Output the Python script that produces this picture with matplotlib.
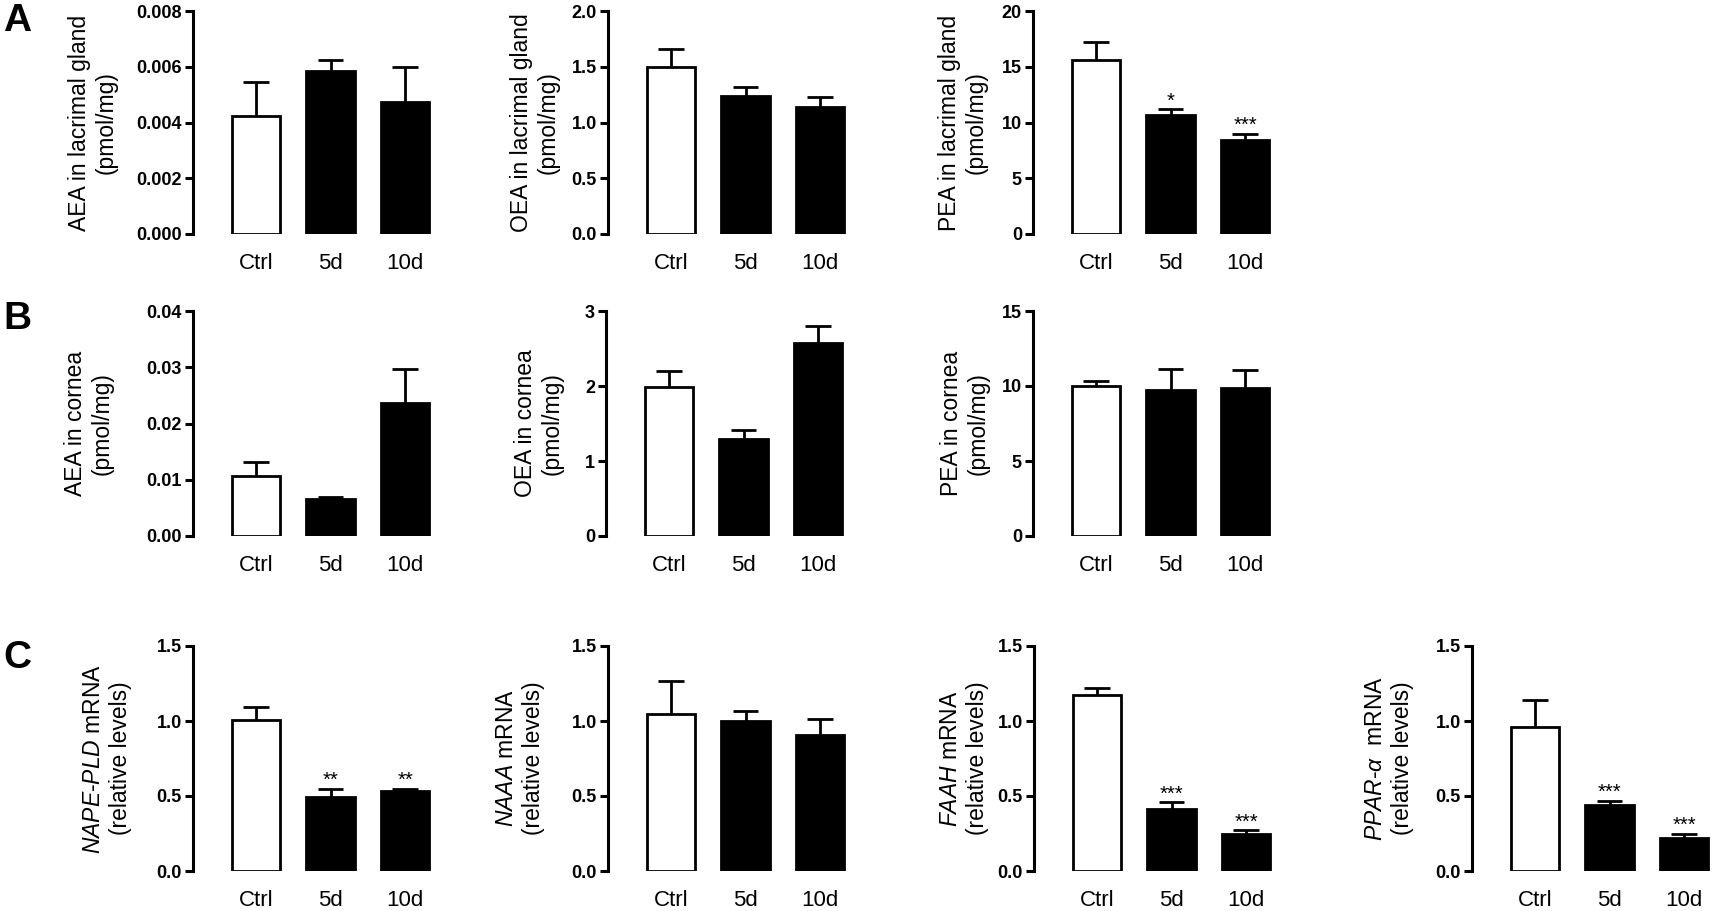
import matplotlib
matplotlib.use('Agg')
import matplotlib.pyplot as plt
from matplotlib.ticker import FormatStrFormatter, MultipleLocator

plt.rcParams['font.family'] = ['Liberation Sans', 'DejaVu Sans']
plt.rcParams['mathtext.fontset'] = 'custom'
plt.rcParams['mathtext.rm'] = 'Liberation Sans'
plt.rcParams['mathtext.it'] = 'Liberation Sans:italic'

groups = ['Ctrl', '5d', '10d']

# A: lacrimal gland (pmol/mg)
aea_lg = [0.00424, 0.00585, 0.00472]
aea_lg_err = [0.00121, 0.00041, 0.00126]
oea_lg = [1.496, 1.236, 1.135]
oea_lg_err = [0.163, 0.080, 0.092]
pea_lg = [15.6, 10.7, 8.4]
pea_lg_err = [1.6, 0.5, 0.6]
pea_lg_sig = ['', '*', '***']

# B: cornea (pmol/mg)
aea_co = [0.0107, 0.0066, 0.0237]
aea_co_err = [0.0024, 0.0004, 0.0060]
oea_co = [1.985, 1.29, 2.579]
oea_co_err = [0.217, 0.128, 0.226]
pea_co = [9.99, 9.74, 9.90]
pea_co_err = [0.33, 1.40, 1.18]

# C: mRNA (relative levels)
nape = [1.004, 0.496, 0.533]
nape_err = [0.087, 0.053, 0.016]
nape_sig = ['', '**', '**']
naaa = [1.05, 0.998, 0.907]
naaa_err = [0.22, 0.067, 0.109]
faah = [1.173, 0.414, 0.248]
faah_err = [0.048, 0.044, 0.024]
faah_sig = ['', '***', '***']
ppar = [0.962, 0.439, 0.223]
ppar_err = [0.180, 0.029, 0.025]
ppar_sig = ['', '***', '***']

W, H = 1713, 911
fig = plt.figure(figsize=(W / 100, H / 100), dpi=100)

# (spine x px, top px, bottom px, label offset px, values, errors, stars, ymax, step, fmt, ylabel)
panels = [
    (193, 11, 234, -75, aea_lg, aea_lg_err, None, 0.008, 0.002, '%.3f',
     'AEA in lacrimal gland\n(pmol/mg)'),
    (608, 11, 234, -48, oea_lg, oea_lg_err, None, 2.0, 0.5, '%.1f',
     'OEA in lacrimal gland\n(pmol/mg)'),
    (1033, 11, 234, -45, pea_lg, pea_lg_err, pea_lg_sig, 20, 5, '%d',
     'PEA in lacrimal gland\n(pmol/mg)'),
    (193, 311, 536, -79, aea_co, aea_co_err, None, 0.04, 0.01, '%.2f',
     'AEA in cornea\n(pmol/mg)'),
    (606, 311, 536, -42, oea_co, oea_co_err, None, 3, 1, '%d',
     'OEA in cornea\n(pmol/mg)'),
    (1033, 311, 536, -43, pea_co, pea_co_err, None, 15, 5, '%d',
     'PEA in cornea\n(pmol/mg)'),
    (193, 646, 871, -61, nape, nape_err, nape_sig, 1.5, 0.5, '%.1f',
     '$\\mathit{NAPE}$-$\\mathit{PLD}$ mRNA\n(relative levels)'),
    (608, 646, 871, -63, naaa, naaa_err, None, 1.5, 0.5, '%.1f',
     '$\\mathit{NAAA}$ mRNA\n(relative levels)'),
    (1034, 646, 871, -45, faah, faah_err, faah_sig, 1.5, 0.5, '%.1f',
     '$\\mathit{FAAH}$ mRNA\n(relative levels)'),
    (1472, 646, 871, -58, ppar, ppar_err, ppar_sig, 1.5, 0.5, '%.1f',
     '$\\mathit{PPAR}$-$\\mathit{\\alpha}$  mRNA\n(relative levels)'),
]

pitch = 74.5        # px per category
x0 = -63 / pitch    # left xlim
x1 = 2.55
lw = 2.0

for left, top, bottom, lab_off, vals, errs, sig, ymax, step, fmt, ylabel in panels:
    wpx = (x1 - x0) * pitch
    ax = fig.add_axes([left / W, (H - bottom) / H, wpx / W, (bottom - top) / H])
    x = list(range(len(groups)))
    colors = ['white', 'black', 'black']
    ax.bar(x, vals, width=0.65, color=colors, edgecolor='black', linewidth=lw, zorder=2)
    tops = [v + e for v, e in zip(vals, errs)]
    ax.vlines(x, vals, tops, color='black', linewidth=lw, zorder=1)
    ax.hlines(tops, [i - 0.17 for i in x], [i + 0.17 for i in x], color='black',
              linewidth=lw, zorder=1)
    if sig:
        for i, s in enumerate(sig):
            if s:
                ax.annotate(s, (x[i], tops[i]), xytext=(0, 2), textcoords='offset points',
                            ha='center', va='baseline', fontsize=14.5)
    ax.set_xlim(x0, x1)
    ax.set_ylim(0, ymax)
    ax.yaxis.set_major_locator(MultipleLocator(step))
    ax.yaxis.set_major_formatter(FormatStrFormatter(fmt))
    ax.set_xticks(x)
    ax.set_xticklabels(groups, fontsize=16)
    for s in ['top', 'right', 'bottom']:
        ax.spines[s].set_visible(False)
    ax.spines['left'].set_linewidth(2.2)
    ax.tick_params(axis='x', length=0, pad=14)
    ax.tick_params(axis='y', length=6, width=2.2, labelsize=13, pad=2)
    for t in ax.get_yticklabels():
        t.set_fontweight('bold')
    ax.set_ylabel(ylabel, fontsize=16.5)
    ax.yaxis.set_label_coords(lab_off / wpx, 0.5)

fig.text(3 / W, 1 - 3 / H, 'A', fontsize=28, fontweight='bold', va='top')
fig.text(3 / W, 1 - 301 / H, 'B', fontsize=28, fontweight='bold', va='top')
fig.text(3 / W, 1 - 640 / H, 'C', fontsize=28, fontweight='bold', va='top')

fig.savefig('out.png', dpi=100)
